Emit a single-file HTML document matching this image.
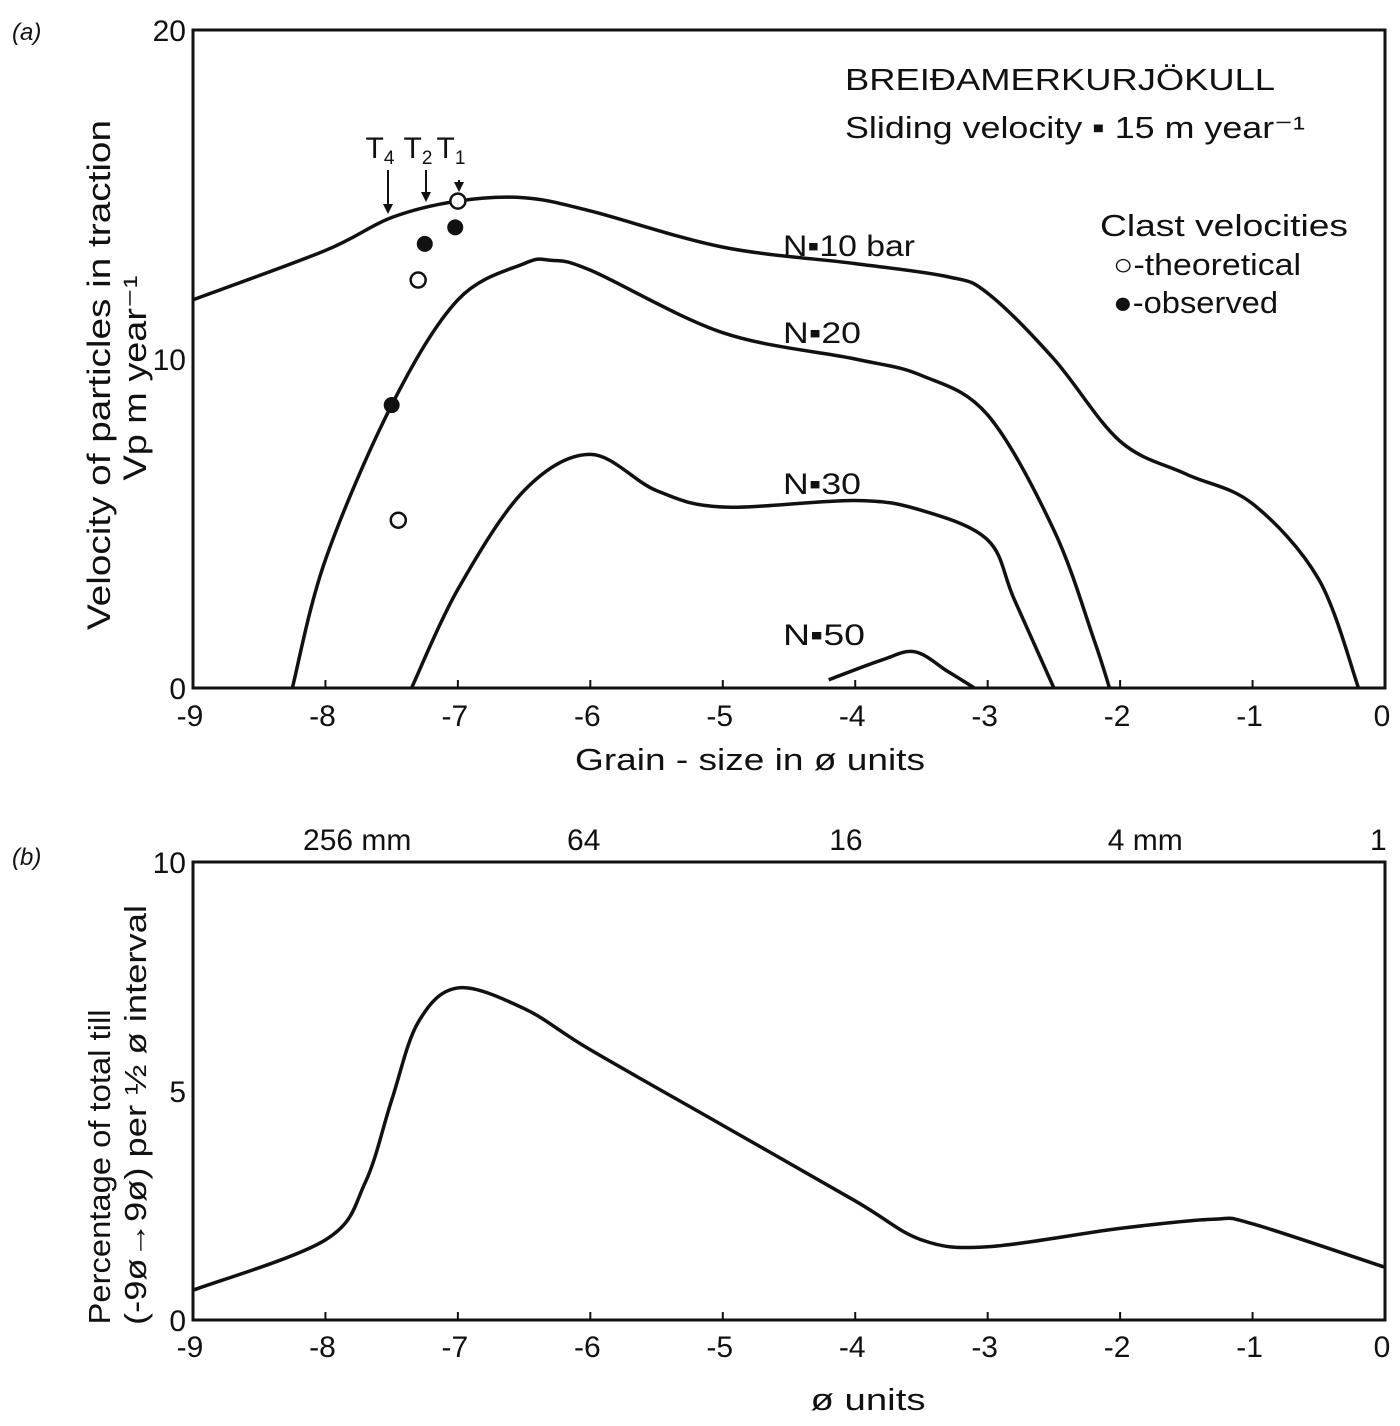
<!DOCTYPE html>
<html><head><meta charset="utf-8"><style>
body{margin:0;background:#fff;}
svg text{font-family:"Liberation Sans",sans-serif;fill:#111;}
</style></head><body>
<svg id="chart" width="1400" height="1421" viewBox="0 0 1400 1421" xmlns="http://www.w3.org/2000/svg">
<g id="pa"></g>
<g id="pb"></g>
</svg>
<script>
const xTicks=[-9,-8,-7,-6,-5,-4,-3,-2,-1,0];
const xTickLabels=["-9","-8","-7","-6","-5","-4","-3","-2","-1","0"];
const yTicksA=[0,10,20];
const yTicksB=[0,5,10];
const n10X=[-9,-8,-7.5,-7,-6.5,-6,-5,-4,-3.3,-3,-2.5,-2,-1.5,-1,-0.5,-0.2];
const n10Y=[11.8,13.3,14.3,14.8,14.9,14.5,13.4,12.9,12.5,12.0,10,7.5,6.5,5.6,3.3,0];
const n20X=[-8.25,-8,-7.5,-7,-6.5,-6.3,-6,-5,-4,-3.5,-3,-2.5,-2.2,-2.08];
const n20Y=[0,3.9,8.6,11.8,12.9,13,12.7,10.8,10.0,9.5,8.3,4.8,1.5,0];
const n30X=[-7.35,-7,-6.5,-6,-5.5,-5,-4,-3.5,-3,-2.8,-2.5];
const n30Y=[0,3,6,7.1,6,5.5,5.7,5.4,4.5,2.7,0];
const n50X=[-4.2,-3.8,-3.55,-3.3,-3.1];
const n50Y=[0.25,0.85,1.1,0.5,0];
const openX=[-7.0,-7.3,-7.45];
const openY=[14.8,12.4,5.1];
const filledX=[-7.02,-7.25,-7.5];
const filledY=[14,13.5,8.6];
const tillX=[-9,-8,-7.7,-7.5,-7.3,-7,-6.5,-6,-5,-4,-3.5,-3,-2,-1.3,-1,0];
const tillY=[0.65,1.75,3,4.8,6.5,7.25,6.8,5.9,4.25,2.6,1.75,1.6,2,2.2,2.1,1.15];
const sizeLabels=["256 mm","64","16","4 mm","1"];
const sizePhi=[-7.76,-6.05,-4.07,-1.81,-0.05];

const NS="http://www.w3.org/2000/svg";
function mk(p,t,a,txt){const e=document.createElementNS(NS,t);for(const k in a)e.setAttribute(k,a[k]);if(txt!==undefined)e.textContent=txt;p.appendChild(e);return e;}
const X0=193,X1=1385;
const xs=v=>X0+(v+9)/9*(X1-X0);
const yA=v=>688-v*(658/20);
const yB=v=>1320-v*(458/10);
function smooth(xa,ya,fx,fy){const p=xa.map((x,i)=>[fx(x),fy(ya[i])]);let d="M"+p[0][0]+","+p[0][1];
for(let i=0;i<p.length-1;i++){const a=p[i-1]||p[i],b=p[i],c=p[i+1],e=p[i+2]||c;
d+=" C"+(b[0]+(c[0]-a[0])/6)+","+(b[1]+(c[1]-a[1])/6)+" "+(c[0]-(e[0]-b[0])/6)+","+(c[1]-(e[1]-b[1])/6)+" "+c[0]+","+c[1];}return d;}

const pa=document.getElementById('pa'), pb=document.getElementById('pb');
let r=mk(pa,'rect',{x:X0,y:30,width:X1-X0,height:658,fill:'none',stroke:'#111','stroke-width':3});


let t=mk(pa,'text',{x:12,y:40,'font-size':24,'font-style':'italic','font-family':'Liberation Serif'},'(a)');

xTicks.forEach((v,i)=>{
 const l=mk(pa,'line',{x1:xs(v),x2:xs(v),y1:688,y2:680,stroke:'#111','stroke-width':2});
 
 const tx=mk(pa,'text',{x:xs(v)-3,y:726,'font-size':30,'text-anchor':'middle'},xTickLabels[i]);
 
});
yTicksA.forEach(v=>{
 const tx=mk(pa,'text',{x:186,y:yA(v)+11,'font-size':30,'text-anchor':'end'},String(v));
 
});
t=mk(pa,'text',{x:750,y:770,'font-size':31,'text-anchor':'middle',textLength:350,lengthAdjust:'spacingAndGlyphs'},'Grain - size in ø units');

t=mk(pa,'text',{x:0,y:0,'font-size':32,'text-anchor':'middle',textLength:510,lengthAdjust:'spacingAndGlyphs',transform:'translate(110,375) rotate(-90)'},'Velocity of particles in traction');

t=mk(pa,'text',{x:0,y:0,'font-size':32,'text-anchor':'middle',textLength:205,lengthAdjust:'spacingAndGlyphs',transform:'translate(146,378) rotate(-90)'},'Vp  m year⁻¹');

[[n10X,n10Y,'curve-n10'],[n20X,n20Y,'curve-n20'],[n30X,n30Y,'curve-n30'],[n50X,n50Y,'curve-n50']].forEach(c=>{
 const p=mk(pa,'path',{d:smooth(c[0],c[1],xs,yA),fill:'none',stroke:'#111','stroke-width':3.5});
 
});
[['N▪10 bar',783,256,132],['N▪20',783,343,78],['N▪30',783,494,78],['N▪50',783,645,82]].forEach(a=>{
 const tx=mk(pa,'text',{x:a[1],y:a[2],'font-size':30,textLength:a[3],lengthAdjust:'spacingAndGlyphs'},a[0]);
 
});
filledX.forEach((v,i)=>{const c=mk(pa,'circle',{cx:xs(v),cy:yA(filledY[i]),r:8,fill:'#111'});
 });
openX.forEach((v,i)=>{const c=mk(pa,'circle',{cx:xs(v),cy:yA(openY[i]),r:7.5,fill:'#fff',stroke:'#111','stroke-width':2.5});
 });
[['T',388,'4',170,214],['T',426,'2',170,202],['T',459,'1',180,192]].forEach(a=>{
 const tx=mk(pa,'text',{x:a[1]-8,y:158,'font-size':30,'text-anchor':'middle'},a[0]);
 mk(tx,'tspan',{'font-size':19,dy:6},a[2]);
 
 const l=mk(pa,'line',{x1:a[1],x2:a[1],y1:a[3],y2:a[4]-6,stroke:'#111','stroke-width':2});
 
 mk(pa,'path',{d:`M${a[1]-5},${a[4]-10} L${a[1]+5},${a[4]-10} L${a[1]},${a[4]} Z`,fill:'#111'});
});
[['BREIÐAMERKURJÖKULL',845,90,430],['Sliding  velocity ▪ 15 m year⁻¹',845,138,460],['Clast velocities',1100,236,248],['○-theoretical',1113,275,188],['●-observed',1113,313,165]].forEach(a=>{
 const tx=mk(pa,'text',{x:a[1],y:a[2],'font-size':31,textLength:a[3],lengthAdjust:'spacingAndGlyphs'},a[0]);
 
});
r=mk(pb,'rect',{x:X0,y:862,width:X1-X0,height:458,fill:'none',stroke:'#111','stroke-width':3});


t=mk(pb,'text',{x:12,y:865,'font-size':24,'font-style':'italic','font-family':'Liberation Serif'},'(b)');

xTicks.forEach((v,i)=>{
 const l=mk(pb,'line',{x1:xs(v),x2:xs(v),y1:1320,y2:1312,stroke:'#111','stroke-width':2});
 
 const tx=mk(pb,'text',{x:xs(v)-3,y:1357,'font-size':30,'text-anchor':'middle'},xTickLabels[i]);
 
});
yTicksB.forEach(v=>{
 const tx=mk(pb,'text',{x:186,y:yB(v)+11,'font-size':30,'text-anchor':'end'},String(v));
 
});
sizePhi.forEach((v,i)=>{
 const tx=mk(pb,'text',{x:xs(v),y:850,'font-size':30,'text-anchor':'middle'},sizeLabels[i]);
 
});
t=mk(pb,'text',{x:868,y:1410,'font-size':31,'text-anchor':'middle',textLength:115,lengthAdjust:'spacingAndGlyphs'},'ø  units');

t=mk(pb,'text',{x:0,y:0,'font-size':31,'text-anchor':'middle',textLength:315,lengthAdjust:'spacingAndGlyphs',transform:'translate(110,1167) rotate(-90)'},'Percentage of total till');

t=mk(pb,'text',{x:0,y:0,'font-size':31,'text-anchor':'middle',textLength:420,lengthAdjust:'spacingAndGlyphs',transform:'translate(146,1115) rotate(-90)'},'(-9ø→9ø) per ½ ø interval');

const pp=mk(pb,'path',{d:smooth(tillX,tillY,xs,yB),fill:'none',stroke:'#111','stroke-width':3.5});


</script>
</body></html>
